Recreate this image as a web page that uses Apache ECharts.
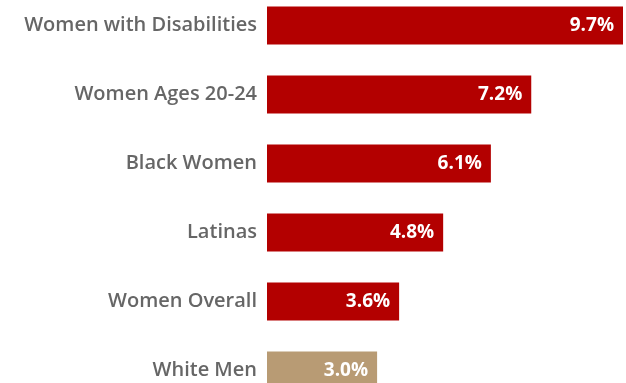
<!DOCTYPE html>
<html>
<head>
<meta charset="utf-8">
<script src="https://cdn.jsdelivr.net/npm/echarts@6/dist/echarts.min.js"></script>
<style>
  html, body { margin: 0; padding: 0; background: #fff; overflow: hidden; }
  /* the reference is cropped at top and bottom, so the chart box is taller than the window */
  #bars { position: relative; top: -9.5px; width: 626px; height: 414px; }
</style>
</head>
<body>
<div id="bars"></div>
<script>
// categories top to bottom
var groups = ['Women with Disabilities', 'Women Ages 20-24', 'Black Women', 'Latinas', 'Women Overall', 'White Men']
var rates = [9.7, 7.2, 6.1, 4.8, 3.6, 3.0]
var barColors = ['#b30000', '#b30000', '#b30000', '#b30000', '#b30000', '#b89b74']

var chart = echarts.init(document.getElementById('bars'))
var option = {
  animation: false,
  grid: {
    left: 267,
    right: 3,
    top: 0,
    bottom: 0,
    containLabel: false
  },
  xAxis: {
    type: 'value',
    min: 0,
    max: 9.7,
    show: false
  },
  yAxis: {
    type: 'category',
    inverse: true,
    data: groups,
    axisLine: { show: false },
    axisTick: { show: false },
    axisLabel: {
      margin: 10,
      color: '#666',
      fontFamily: 'Open Sans',
      fontWeight: 600,
      fontSize: 20
    }
  },
  series: [
    {
      type: 'bar',
      barCategoryGap: '45%',
      data: rates.map(function(v, i) {
        return { value: v, itemStyle: { color: barColors[i] } }
      }),
      label: {
        show: true,
        position: 'insideRight',
        distance: 9,
        color: '#fff',
        fontFamily: 'Open Sans',
        fontWeight: 'bold',
        fontSize: 19,
        formatter: function(p) {
          return p.value.toFixed(1) + '%'
        }
      }
    }
  ]
}
chart.setOption(option)
</script>
</body>
</html>
